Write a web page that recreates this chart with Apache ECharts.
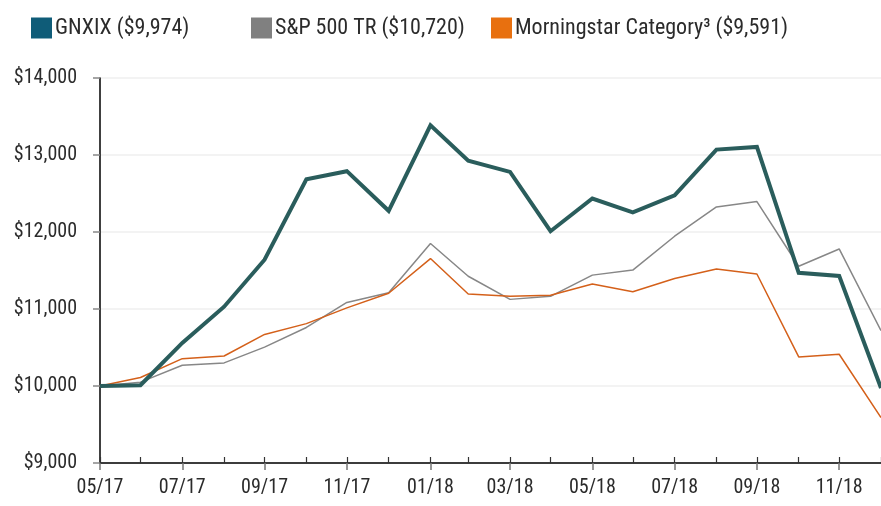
<!DOCTYPE html>
<html>
<head>
<meta charset="utf-8">
<script src="https://cdn.jsdelivr.net/npm/echarts@6/dist/echarts.min.js"></script>
<style>
    html, body { margin: 0; padding: 0; background: #fff; }
    #chart { width: 881px; height: 506px; }
</style>
</head>
<body>
<div id="chart"></div>
<script>
// month-end dates, 05/17 .. 12/18
const dates = [
    "2017-05-31", "2017-06-30", "2017-07-31", "2017-08-31", "2017-09-30", "2017-10-31",
    "2017-11-30", "2017-12-31", "2018-01-31", "2018-02-28", "2018-03-31", "2018-04-30",
    "2018-05-31", "2018-06-30", "2018-07-31", "2018-08-31", "2018-09-30", "2018-10-31",
    "2018-11-30", "2018-12-31"
];

const gnxix = [10000, 10010, 10560, 11030, 11640, 12685, 12790, 12275, 13385, 12925,
    12780, 12010, 12435, 12255, 12475, 13070, 13105, 11470, 11430, 9974];
const sp500 = [10000, 10050, 10270, 10300, 10505, 10760, 11085, 11210, 11850, 11425,
    11125, 11165, 11440, 11505, 11945, 12325, 12395, 11555, 11780, 10720];
const category = [10000, 10110, 10355, 10390, 10670, 10810, 11015, 11205, 11655, 11195,
    11165, 11178, 11325, 11225, 11395, 11520, 11455, 10378, 10412, 9591];

const seriesNames = ["GNXIX ($9,974)", "S&P 500 TR ($10,720)", "Morningstar Category\u00B3 ($9,591)"];

const font = "'Roboto Condensed', 'Liberation Sans Narrow', Roboto, sans-serif";
const textColor = "#2b2b2b";

// days since the first month end, so months sit at their real spacing
const DAY = 86400000;
const t0 = Date.UTC(2017, 4, 31);
const days = dates.map(d => {
    const [y, m, day] = d.split("-").map(Number);
    return Math.round((Date.UTC(y, m - 1, day) - t0) / DAY);
});
const labeled = days.filter((t, i) => i % 2 === 0);

function fmtMonth(v) {
    const i = days.indexOf(Math.round(v));
    if ( i < 0 )
        return "";
    const [y, m] = dates[i].split("-");
    return m + "/" + y.slice(2);
}

function pairs(values) {
    return values.map((v, i) => [days[i], v]);
}

function legend(name, color, left) {
    return {
        left: left,
        top: 12,
        itemWidth: 21,
        itemHeight: 21,
        icon: "rect",
        selectedMode: false,
        textStyle: { fontFamily: font, fontSize: 22, color: textColor, padding: [0, 0, 0, -2] },
        data: [{ name: name, itemStyle: { color: color } }]
    };
}

const chart = echarts.init(document.getElementById("chart"), null, { renderer: "canvas" });

chart.setOption({
    animation: false,
    backgroundColor: "#fff",
    legend: [
        legend(seriesNames[0], "#0f5c78", 26),
        legend(seriesNames[1], "#808080", 246),
        legend(seriesNames[2], "#e8700f", 486)
    ],
    grid: { left: 100, right: 0, top: 78, bottom: 43 },
    xAxis: [
        {
            type: "value",
            min: 0,
            max: days[days.length - 1],
            axisLine: { lineStyle: { color: "#000", width: 1.5 } },
            axisTick: { show: true, inside: false, length: 7, customValues: labeled, lineStyle: { color: "#777", width: 1.5 } },
            axisLabel: {
                customValues: labeled,
                formatter: fmtMonth,
                fontFamily: font,
                fontSize: 20,
                color: textColor,
                margin: 15
            },
            splitLine: { show: false }
        },
        {
            type: "value",
            position: "bottom",
            min: 0,
            max: days[days.length - 1],
            axisLine: { show: false },
            axisTick: { show: true, inside: true, length: 6, customValues: days, lineStyle: { color: "#333", width: 1.2 } },
            axisLabel: { show: false },
            splitLine: { show: false }
        }
    ],
    yAxis: {
        type: "value",
        min: 9000,
        max: 14000,
        interval: 1000,
        axisLine: { show: true, lineStyle: { color: "#000", width: 1.5 } },
        axisTick: { show: true, length: 7, lineStyle: { color: "#888", width: 1.5 } },
        axisLabel: {
            formatter: v => "$" + v.toLocaleString("en-US"),
            fontFamily: font,
            fontSize: 20,
            color: textColor,
            margin: 23
        },
        splitLine: { show: true, lineStyle: { color: "#f3f3f3", width: 2 } }
    },
    series: [
        {
            name: seriesNames[1],
            type: "line",
            data: pairs(sp500),
            symbol: "none",
            lineStyle: { color: "#878787", width: 1.5 },
            itemStyle: { color: "#808080" },
            z: 2
        },
        {
            name: seriesNames[2],
            type: "line",
            data: pairs(category),
            symbol: "none",
            lineStyle: { color: "#d4601a", width: 1.5 },
            itemStyle: { color: "#e8700f" },
            z: 3
        },
        {
            name: seriesNames[0],
            type: "line",
            data: pairs(gnxix),
            symbol: "none",
            lineStyle: { color: "#2a5d5c", width: 4, join: "miter" },
            itemStyle: { color: "#0f5c78" },
            z: 4
        }
    ]
});
</script>
</body>
</html>
